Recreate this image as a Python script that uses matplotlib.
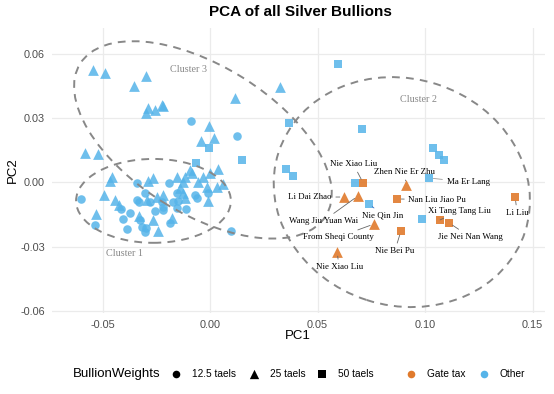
import matplotlib
matplotlib.use("Agg")
import matplotlib.pyplot as plt
from matplotlib.patches import Ellipse

# ---- data ----
# Gate tax bullions, labelled
gate_names = ["Nie Xiao Liu", "Zhen Nie Er Zhu", "Li Dai Zhao", "Wang Jiu Yuan Wai",
              "Nan Liu Jiao Pu", "Xi Tang Tang Liu", "Jie Nei Nan Wang", "Li Liu",
              "From Sheqi County", "Nie Bei Pu", "Nie Xiao Liu"]
gate_x = [0.0712, 0.0912, 0.0623, 0.0688, 0.0870, 0.1070, 0.1112, 0.1419, 0.0763, 0.0888, 0.0591]
gate_y = [-0.0002, -0.0012, -0.0068, -0.0063, -0.0077, -0.0175, -0.0189, -0.0068, -0.0194, -0.0227, -0.0325]
gate_w = ["50", "25", "25", "25", "50", "50", "50", "50", "25", "50", "25"]

# Other bullions with labels (50 taels)
other_names = ["Ma Er Lang", "Nie Qin Jin"]
other_lab_x = [0.1019, 0.0740]
other_lab_y = [0.0021, -0.0100]

# Other bullions, 50 taels
sq_x = [0.0674, 0.0986, 0.0353, 0.0386, 0.1037, 0.1065, 0.1088, 0.0595, 0.0707, 0.0367,
        -0.0005, -0.0065, 0.0149]
sq_y = [-0.0002, -0.0171, 0.0063, 0.0030, 0.0161, 0.0129, 0.0105, 0.0554, 0.0250, 0.0278,
        0.0161, 0.0091, 0.0105]

# Other bullions, 25 taels
tri_x = [0.0326, 0.0116, -0.0219, -0.0005, 0.0019, -0.0042, -0.0544, -0.0488, -0.0298, -0.0353,
         -0.0288, -0.0256, -0.0223, -0.0298, -0.0581, -0.0521,
         -0.0456, -0.0465, -0.0493, -0.0530, -0.0442, -0.0423, -0.0330, -0.0265, -0.0242,
         -0.0288, -0.0265, -0.0293, -0.0247, -0.0221,
         -0.0093, -0.0084, 0.0037, 0.0000, -0.0033, -0.0056, -0.0014, 0.0033, 0.0060, -0.0009,
         -0.0116, -0.0126, -0.0153, -0.0140, -0.0126, -0.0116, -0.0177]
tri_y = [0.0446, 0.0395, 0.0357, 0.0264, 0.0208, 0.0194, 0.0526, 0.0512, 0.0498, 0.0451,
         0.0348, 0.0339, 0.0362, 0.0325, 0.0138, 0.0133,
         0.0026, 0.0007, -0.0058, -0.0147, -0.0082, -0.0105, -0.0157, -0.0175, -0.0227,
         0.0007, 0.0021, -0.0082, -0.0068, -0.0060,
         0.0058, 0.0044, 0.0063, 0.0044, 0.0026, 0.0002, -0.0021, -0.0021, -0.0007, -0.0086,
         0.0026, 0.0002, 0.0026, -0.0026, -0.0049, -0.0072, -0.0166]

# Other bullions, 12.5 taels
cir_x = [-0.0088, 0.0126,
         -0.0600, -0.0535, -0.0414, -0.0372, -0.0405, -0.0386, -0.0326, -0.0316, -0.0298, -0.0302,
         -0.0340, -0.0302, -0.0340, -0.0330, -0.0279, -0.0256, -0.0219, -0.0190,
         -0.0009, -0.0070, -0.0060, -0.0153, -0.0172, -0.0223, -0.0153, -0.0112, -0.0186,
         -0.0219, -0.0149, 0.0098]
cir_y = [0.0287, 0.0217,
         -0.0077, -0.0199, -0.0124, -0.0143, -0.0171, -0.0217, -0.0175, -0.0208, -0.0213, -0.0231,
         -0.0002, -0.0049, -0.0082, -0.0091, -0.0091, -0.0133, -0.0114, -0.0002,
         -0.0049, -0.0058, -0.0072, -0.0049, -0.0091, -0.0091, -0.0119, -0.0124, -0.0189,
         -0.0128, -0.0086, -0.0227]

# cluster ellipses: centre, full width, full height, angle
clusters = ["Cluster 1", "Cluster 2", "Cluster 3"]
ell_cx = [-0.0263, 0.0892, -0.0033]
ell_cy = [-0.0086, -0.0045, 0.0199]
ell_w = [0.0720, 0.1205, 0.1346]
ell_h = [0.0392, 0.1060, 0.0690]
ell_ang = [0, -18, -32]
clab_x = [-0.0400, 0.0970, -0.0100]
clab_y = [-0.0330, 0.0386, 0.0530]

orange = "#E07A2C"
blue = "#56B4E9"
marker_of = {"12.5": "o", "25": "^", "50": "s"}
size_of = {"o": 38, "^": 60, "s": 36}

# ---- figure ----
W, H = 554, 394
fig = plt.figure(figsize=(W / 100, H / 100), dpi=100)
px = lambda l, t, r, b: [l / W, 1 - b / H, (r - l) / W, (b - t) / H]
ax = fig.add_axes(px(52, 28, 545, 313))
ax.set_xlim(-0.0735, 0.1558)
ax.set_ylim(-0.0610, 0.0722)

for s in ax.spines.values():
    s.set_visible(False)
ax.set_xticks([-0.05, 0.0, 0.05, 0.10, 0.15])
ax.set_xticklabels(["-0.05", "0.00", "0.05", "0.10", "0.15"])
ax.set_yticks([-0.06, -0.03, 0.0, 0.03, 0.06])
ax.set_yticklabels(["-0.06", "-0.03", "0.00", "0.03", "0.06"])
ax.tick_params(length=0, labelsize=7.8, labelcolor="#4D4D4D", pad=5)
for lab in ax.get_xticklabels() + ax.get_yticklabels():
    lab.set_family("Liberation Sans")
ax.grid(True, color="#EBEBEB", lw=0.9)
ax.set_axisbelow(True)

# points
ax.scatter(cir_x, cir_y, marker="o", s=size_of["o"], color=blue, alpha=0.85, lw=0)
ax.scatter(tri_x, tri_y, marker="^", s=size_of["^"], color=blue, alpha=0.85, lw=0)
ax.scatter(sq_x + other_lab_x, sq_y + other_lab_y, marker="s", s=size_of["s"], color=blue, alpha=0.85, lw=0)
for x, y, w in zip(gate_x, gate_y, gate_w):
    m = marker_of[w]
    ax.scatter(x, y, marker=m, s=size_of[m], color=orange, alpha=0.9, lw=0, zorder=3)

# ellipses
for cx, cy, w, h, a, name, lx, ly in zip(ell_cx, ell_cy, ell_w, ell_h, ell_ang, clusters, clab_x, clab_y):
    ax.add_patch(Ellipse((cx, cy), w, h, angle=a, fill=False, ec="#888888", lw=1.4,
                         ls=(0, (4, 3.2)), zorder=4))
    ax.text(lx, ly, name, ha="center", va="center", fontsize=7.3, color="#888888",
            family="Liberation Serif")

# labels (offsets in points, ggrepel-like)
gate_off = [(-7, 13.5), (-1, 9.5), (-24.5, 0), (-25, -18), (29, -0.5), (14, 6.5),
            (15, -10), (1.5, -11.5), (-26, -9.5), (-4.5, -14.5), (1.5, -11)]
other_off = [(28, -3), (10, -8.5)]
seg_col = ["#666666"] * len(gate_names)
for name, x, y, off, c in zip(gate_names + other_names, gate_x + other_lab_x,
                              gate_y + other_lab_y, gate_off + other_off,
                              seg_col + ["#999999", "#3B6FC0"]):
    ax.annotate(name, (x, y), xytext=off, textcoords="offset points", ha="center", va="center",
                fontsize=6.4, family="Liberation Serif", color="black",
                arrowprops=dict(arrowstyle="-", color=c, lw=0.6, shrinkA=1, shrinkB=3),
                zorder=5)

# axis titles and title
fig.text(298 / W, 1 - 336 / H, "PC1", ha="center", va="center", fontsize=9.5, family="Liberation Sans")
fig.text(12.5 / W, 1 - 170 / H, "PC2", ha="center", va="center", rotation=90, fontsize=9.5,
         family="Liberation Sans")
fig.text(300 / W, 1 - 12 / H, "PCA of all Silver Bullions", ha="center", va="center",
         fontsize=11, fontweight="bold", family="Liberation Sans")

# legend at bottom, drawn in a pixel-coordinate overlay
lg = fig.add_axes([0, 0, 1, 1], facecolor="none")
lg.set_xlim(0, W)
lg.set_ylim(H, 0)
lg.axis("off")
ly = 374
lg.text(73, ly, "BullionWeights", ha="left", va="center", fontsize=9.5, family="Liberation Sans")
keys = [(176, "o", "black", "12.5 taels"), (254, "^", "black", "25 taels"), (322, "s", "black", "50 taels"),
        (411, "o", orange, "Gate tax"), (484, "o", blue, "Other")]
for kx, m, c, t in keys:
    lg.scatter([kx], [ly], marker=m, s={"o": 30, "^": 45, "s": 30}[m], color=c, lw=0)
    lg.text(kx + 16, ly, t, ha="left", va="center", fontsize=7.3, family="Liberation Sans")

fig.savefig("out.png", dpi=100)
